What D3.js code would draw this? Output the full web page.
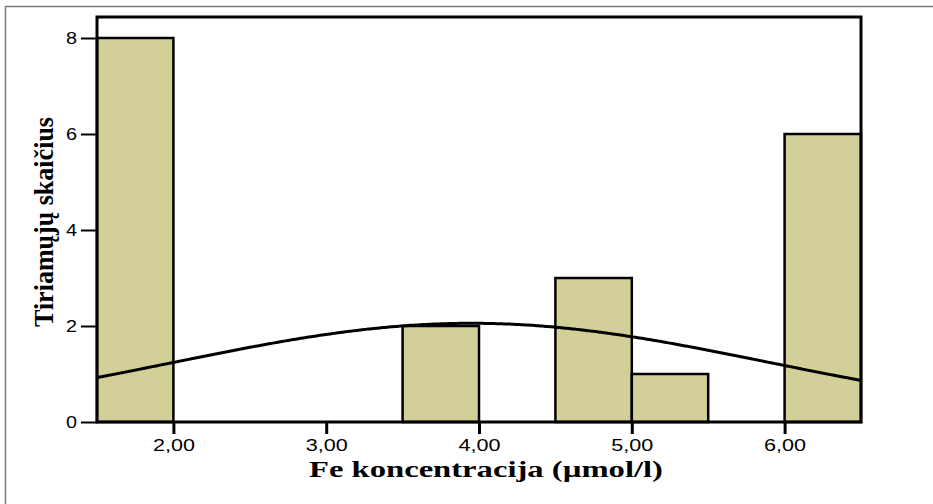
<!DOCTYPE html>
<html><head><meta charset="utf-8">
<script src="https://cdn.jsdelivr.net/npm/d3@7"></script>
<style>body{margin:0;background:#fff}svg{display:block}</style>
</head><body>
<script>
const binStarts = [1.5, 3.5, 4.5, 5.0, 6.0];
const binCounts = [8, 2, 3, 1, 6];
const binWidth = 0.5;
const xTicks = [2, 3, 4, 5, 6];
const xTickLabels = ["2,00", "3,00", "4,00", "5,00", "6,00"];
const yTicks = [0, 2, 4, 6, 8];
const fitMean = 3.95;
const fitSd = 1.94;
const totalN = 20;
const xTitle = "Fe koncentracija (µmol/l)";
const yTitle = "Tiriamųjų skaičius";

const W = 933, H = 504;
const svg = d3.select("body").append("svg").attr("width", W).attr("height", H);
svg.append("rect").attr("width", W).attr("height", H).attr("fill", "#fff");
svg.append("path").attr("d", `M5.5,${H} V6.5 H${W}`).attr("fill", "none").attr("stroke", "#777").attr("stroke-width", 1.5);

const L = 97, R = 861, T = 17, B = 422;
const x = d3.scaleLinear().domain([1.5, 6.5]).range([L, R]);
const y = d3.scaleLinear().domain([0, 8]).range([B, 38]);

// bars
svg.append("g").selectAll("rect").data(binStarts).join("rect")
  .attr("x", (d) => x(d))
  .attr("y", (d, i) => y(binCounts[i]))
  .attr("width", (d) => x(d + binWidth) - x(d))
  .attr("height", (d, i) => y(0) - y(binCounts[i]))
  .attr("fill", "#d3cf98").attr("stroke", "#000").attr("stroke-width", 2.5);

// normal curve
const pts = d3.range(0, 201).map(i => 1.5 + i * 5 / 200);
const pdf = v => totalN * binWidth / (fitSd * Math.sqrt(2 * Math.PI)) * Math.exp(-((v - fitMean) ** 2) / (2 * fitSd * fitSd));
svg.append("path").datum(pts)
  .attr("d", d3.line().x(d => x(d)).y(d => y(pdf(d))).curve(d3.curveBasis))
  .attr("fill", "none").attr("stroke", "#000").attr("stroke-width", 3);

// frame
svg.append("rect").attr("x", L).attr("y", T).attr("width", R - L).attr("height", B - T)
  .attr("fill", "none").attr("stroke", "#000").attr("stroke-width", 3);

// y axis
const yAxis = d3.axisLeft(y).tickValues(yTicks).tickSize(16).tickPadding(4).tickFormat(d3.format("d"));
const gy = svg.append("g").attr("transform", `translate(${L},0)`).call(yAxis);
gy.select(".domain").remove();
gy.selectAll(".tick line").attr("stroke", "#000").attr("stroke-width", 2);
gy.selectAll(".tick text").attr("font-family", "Liberation Sans, Arial, sans-serif").attr("font-size", 16)
  .attr("fill", "#000").attr("textLength", 11).attr("lengthAdjust", "spacingAndGlyphs").attr("dy", "0.36em");

// x axis
const xAxis = d3.axisBottom(x).tickValues(xTicks).tickSize(12).tickPadding(6).tickFormat((d, i) => xTickLabels[i]);
const gx = svg.append("g").attr("transform", `translate(0,${B})`).call(xAxis);
gx.select(".domain").remove();
gx.selectAll(".tick line").attr("stroke", "#000").attr("stroke-width", 3);
gx.selectAll(".tick text").attr("font-family", "Liberation Sans, Arial, sans-serif").attr("font-size", 16)
  .attr("fill", "#000").attr("textLength", 42).attr("lengthAdjust", "spacingAndGlyphs");

// titles
svg.append("text").attr("x", 486).attr("y", 477).attr("text-anchor", "middle")
  .attr("font-family", "Liberation Serif, Times New Roman, serif").attr("font-weight", "bold").attr("font-size", 24)
  .attr("textLength", 354).attr("lengthAdjust", "spacingAndGlyphs").text(xTitle);
svg.append("text").attr("transform", "translate(53,222) rotate(-90)").attr("text-anchor", "middle")
  .attr("font-family", "Liberation Serif, Times New Roman, serif").attr("font-weight", "bold").attr("font-size", 27)
  .attr("textLength", 210).attr("lengthAdjust", "spacingAndGlyphs").text(yTitle);
</script>
</body></html>
